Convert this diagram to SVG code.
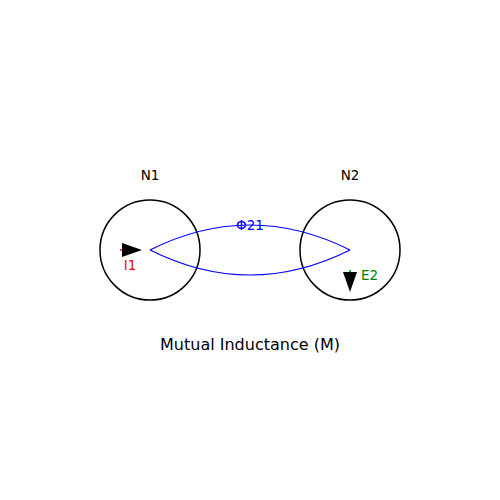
<svg xmlns="http://www.w3.org/2000/svg" width="500" height="500" viewBox="0 0 500 500">
<style>
.coil{fill:none;stroke:#000;stroke-width:1.5}
.lbl{font-family:"DejaVu Sans",sans-serif;font-size:13.5px}
.flux{fill:none;stroke:#0000ff;stroke-width:1.2}
</style>
<rect width="500" height="500" fill="#fff"/>
<g id="N1">
<circle class="coil" cx="150" cy="250" r="50"/>
<text class="lbl" x="150" y="180" text-anchor="middle" fill="#000">N1</text>
</g>
<g id="N2">
<circle class="coil" cx="350" cy="250" r="50"/>
<text class="lbl" x="350" y="180" text-anchor="middle" fill="#000">N2</text>
</g>
<g id="connectors">
<path class="flux" d="M150,250 Q250,200 350,250"/>
<path class="flux" d="M150,250 Q250,300 350,250"/>
<text class="lbl" x="250" y="230" text-anchor="middle" fill="#0000ff">Φ21</text>
</g>
<g id="I1">
<line x1="120" y1="250" x2="123" y2="250" stroke="#ff0000" stroke-width="1.5"/>
<polygon points="122,243 142,250 122,257" fill="#000"/>
<text class="lbl" x="130" y="270" text-anchor="middle" fill="#ff0000">I1</text>
</g>
<g id="E2">
<line x1="350" y1="270" x2="350" y2="273" stroke="#008000" stroke-width="1.5"/>
<polygon points="343,272 357,272 350,292" fill="#000"/>
<text class="lbl" x="361" y="280" fill="#008000">E2</text>
</g>
<text x="250" y="350" text-anchor="middle" font-family="DejaVu Sans, sans-serif" font-size="16px" fill="#000">Mutual Inductance (M)</text>
</svg>
